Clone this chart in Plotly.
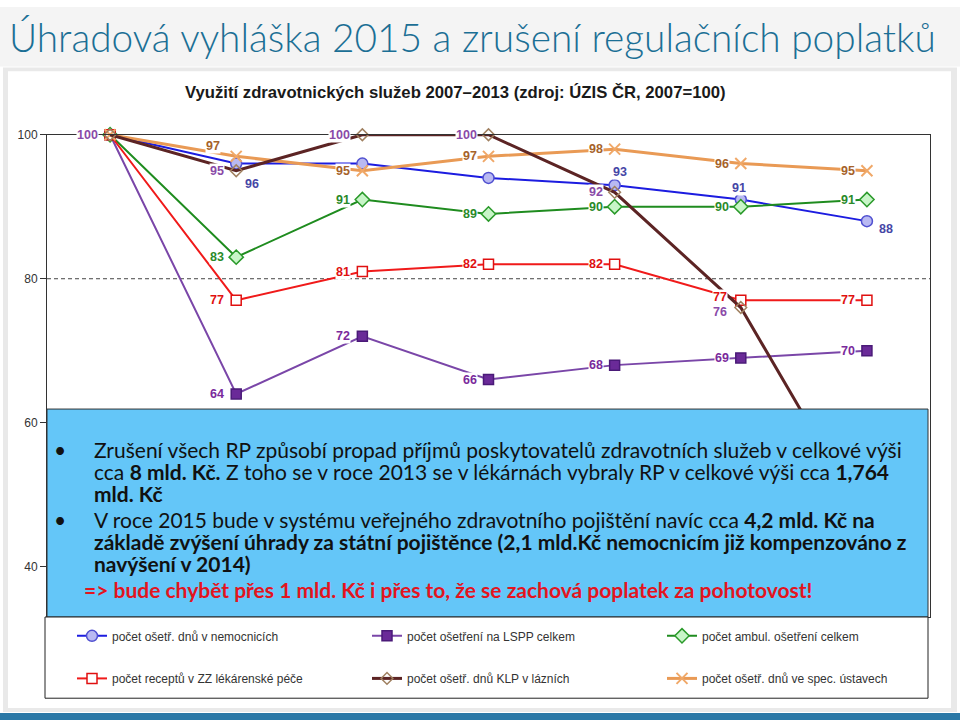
import plotly.graph_objects as go

# ---------------- data ----------------
years = [2007, 2008, 2009, 2010, 2011, 2012, 2013]

nemocnice = [100, 96, 96, 94, 93, 91, 88]          # počet ošetř. dnů v nemocnicích
lspp = [100, 64, 72, 66, 68, 69, 70]               # počet ošetření na LSPP celkem
ambul = [100, 83, 91, 89, 90, 90, 91]              # počet ambul. ošetření celkem
recepty = [100, 77, 81, 82, 82, 77, 77]            # počet receptů v ZZ lékárenské péče
lazne = [100, 95, 100, 100, 92, 76, 46]            # počet ošetř. dnů KLP v lázních
spec = [100, 97, 95, 97, 98, 96, 95]               # počet ošetř. dnů ve spec. ústavech

names = {
    "nem": "počet ošetř. dnů v nemocnicích",
    "lspp": "počet ošetření na LSPP celkem",
    "amb": "počet ambul. ošetření celkem",
    "rec": "počet receptů v ZZ lékárenské péče",
    "laz": "počet ošetř. dnů KLP v lázních",
    "spec": "počet ošetř. dnů ve spec. ústavech",
}

y_ticks = [40, 60, 80, 100]

slide_title = "Úhradová vyhláška 2015 a zrušení regulačních poplatků"
chart_title = "Využití zdravotnických služeb 2007–2013 (zdroj: ÚZIS ČR, 2007=100)"

box_lines = [
    "Zrušení všech RP způsobí propad příjmů poskytovatelů zdravotních služeb v celkové výši",
    "cca <b>8 mld. Kč.</b> Z toho se v roce 2013 se v lékárnách vybraly RP v celkové výši cca <b>1,764</b>",
    "<b>mld. Kč</b>",
    "V roce 2015 bude v systému veřejného zdravotního pojištění navíc cca <b>4,2 mld. Kč na</b>",
    "<b>základě zvýšení úhrady za státní pojištěnce (2,1 mld.Kč nemocnicím již kompenzováno z</b>",
    "<b>navýšení v 2014)</b>",
]
box_red = "<b>=&gt; bude chybět přes 1 mld. Kč i přes to, že se zachová poplatek za pohotovost!</b>"

# ---------------- geometry helpers (pixels -> paper) ----------------
W, H = 960, 720
def px(x):
    return x / W
def py(y):
    return 1 - y / H

PL, PR, PT, PB = 47, 930, 129, 616   # plot area in pixels
YMAX = 100
YMIN = 100 - (PB - PT) / 7.27

series = [
    # key, values, line color, width, marker symbol, marker fill, marker line, msize, label color, legend, rank
    ("nem", nemocnice, "#1c1ce0", 2, "circle", "#b9b9f2", "#5050d0", 11, "#4646a6", "legend", 1),
    ("lspp", lspp, "#7a46a8", 2, "square", "#6a2a98", "#4a1a78", 10, "#7a2a9c", "legend", 2),
    ("amb", ambul, "#1f8c1f", 2, "diamond", "#c8f5c8", "#2a9a2a", 11, "#2a8a2a", "legend", 3),
    ("rec", recepty, "#f01a1a", 2, "square", "#ffffff", "#e01010", 10, "#e01010", "legend2", 1),
    ("spec", spec, "#e99a55", 3, "x-thin-open", "#f0a868", "#f0a868", 11, "#a6622a", "legend2", 3),
    ("laz", lazne, "#5c2424", 3, "diamond", "rgba(255,255,255,0)", "#a08060", 9, "#8a4aa8", "legend2", 2),
]

# label placement (style only): default = left of marker
label_special = {
    ("nem", 1): (16, -20),
    ("nem", 4): (5, 13),
    ("nem", 5): (-2, 12),
    ("nem", 6): (19, -8),
    ("spec", 1): (-23, 10),
    ("rec", 5): (-21, 3),
    ("laz", 5): (-21, -4),
}
label_hidden = {
    ("nem", 0), ("nem", 2), ("nem", 3),
    ("lspp", 0), ("amb", 0), ("rec", 0), ("spec", 0), ("laz", 6),
}

fig = go.Figure()

for key, vals, lc, lw, sym, mfill, mline, ms, labc, leg, rank in series:
    fig.add_trace(go.Scatter(
        x=years, y=vals, mode="lines+markers", name=names[key],
        line=dict(color=lc, width=lw),
        marker=dict(symbol=sym, color=mfill, size=ms,
                    line=dict(color=mline, width=1.5 if sym != "x-thin-open" else 2)),
        cliponaxis=False, legend=leg, legendrank=rank,
    ))

label_font_family = "Liberation Sans Narrow, Arial Narrow, Liberation Sans, Arial"
annotations = []
for key, vals, lc, lw, sym, mfill, mline, ms, labc, leg, rank in series:
    for i, (xv, yv) in enumerate(zip(years, vals)):
        if (key, i) in label_hidden:
            continue
        if (key, i) in label_special:
            dx, dy = label_special[(key, i)]
            xa = "center"
        else:
            dx, dy = -11, 0
            xa = "right"
        annotations.append(dict(
            x=xv, y=yv, xref="x", yref="y", text=str(yv), showarrow=False,
            xanchor=xa, yanchor="middle", xshift=dx, yshift=dy,
            font=dict(family=label_font_family, size=12.5, color=labc, weight="bold"),
            bgcolor="white", borderpad=0,
        ))

# slide title + chart title
annotations.append(dict(
    x=px(7), y=py(30), xref="paper", yref="paper", text=slide_title, showarrow=False,
    xanchor="left", yanchor="middle",
    font=dict(family="Lato", size=38.8, color="#1b6f95", weight=300),
))
annotations.append(dict(
    x=px(455), y=py(86), xref="paper", yref="paper", text=chart_title, showarrow=False,
    xanchor="center", yanchor="middle",
    font=dict(family="Liberation Sans, Arial", size=16.7, color="#1a1a1a", weight="bold"),
))

# text box content
line_base = [454, 476, 498, 525, 547, 569]
box_font = dict(family="Lato", size=21, color="#111111")
for txt, yb in zip(box_lines, line_base):
    annotations.append(dict(
        x=px(92), y=py(yb - 7), xref="paper", yref="paper", text=txt, showarrow=False,
        xanchor="left", yanchor="middle", font=box_font,
    ))
for yb in (454, 525):
    annotations.append(dict(
        x=px(60), y=py(yb - 7), xref="paper", yref="paper", text="•", showarrow=False,
        xanchor="center", yanchor="middle", font=box_font,
    ))
annotations.append(dict(
    x=px(82), y=py(595 - 7), xref="paper", yref="paper", text=box_red, showarrow=False,
    xanchor="left", yanchor="middle", font=dict(family="Lato", size=21, color="#e3141e"),
))

shapes = [
    # slide background top
    dict(type="rect", xref="paper", yref="paper", x0=0, x1=1, y0=py(60), y1=1,
         fillcolor="#f4f4f4", line=dict(width=0), layer="below"),
    # panel
    dict(type="rect", xref="paper", yref="paper", x0=px(3), x1=px(957), y0=py(712), y1=py(61),
         fillcolor="#e9e9e9", line=dict(width=0), layer="below"),
    dict(type="rect", xref="paper", yref="paper", x0=px(8), x1=px(951), y0=py(708), y1=py(65),
         fillcolor="#ffffff", line=dict(width=0), layer="below"),
    # bottom bar
    dict(type="rect", xref="paper", yref="paper", x0=0, x1=1, y0=0, y1=py(713),
         fillcolor="#2a78a6", line=dict(width=0), layer="below"),
    # dashed reference line at 80
    dict(type="line", xref="paper", yref="y", x0=px(PL), x1=px(PR), y0=80, y1=80,
         line=dict(color="#444444", width=1, dash="4px,3px"), layer="below"),
    # blue text box
    dict(type="rect", xref="paper", yref="paper", x0=px(47), x1=px(928), y0=py(616), y1=py(406),
         fillcolor="#64c6f8", line=dict(color="#333333", width=1), layer="above"),
    # legend box
    dict(type="rect", xref="paper", yref="paper", x0=px(45), x1=px(928), y0=py(698), y1=py(616),
         fillcolor="#ffffff", line=dict(color="#222222", width=1), layer="above"),
]

leg_font = dict(family="Liberation Sans Narrow, Arial Narrow, Liberation Sans", size=12, color="#333333")

fig.update_layout(
    width=W, height=H, margin=dict(l=0, r=0, t=0, b=0),
    paper_bgcolor="white", plot_bgcolor="rgba(0,0,0,0)",
    xaxis=dict(domain=[px(PL), px(PR)], range=[2006.5, 2013.5], showticklabels=False,
               showgrid=False, zeroline=False, ticks="", showline=True, mirror=True,
               linecolor="#333333", linewidth=1),
    yaxis=dict(domain=[py(PB), py(PT)], range=[YMIN, YMAX], tickvals=y_ticks,
               showgrid=False, zeroline=False, ticks="outside", ticklen=6, tickcolor="#333333",
               showline=True, mirror=True, linecolor="#333333", linewidth=1,
               tickfont=dict(family="Liberation Sans, Arial", size=12, color="#333333")),
    showlegend=True,
    legend=dict(orientation="h", x=px(72), y=py(635), xanchor="left", yanchor="middle",
                entrywidth=250, entrywidthmode="pixels", bgcolor="rgba(0,0,0,0)", font=leg_font),
    legend2=dict(orientation="h", x=px(72), y=py(678), xanchor="left", yanchor="middle",
                 entrywidth=250, entrywidthmode="pixels", bgcolor="rgba(0,0,0,0)", font=leg_font),
    shapes=shapes, annotations=annotations,
)

fig.write_html(
    "out.html",
    config={"displayModeBar": False},
    post_script="document.body.style.margin='0';document.body.style.padding='0';",
)
